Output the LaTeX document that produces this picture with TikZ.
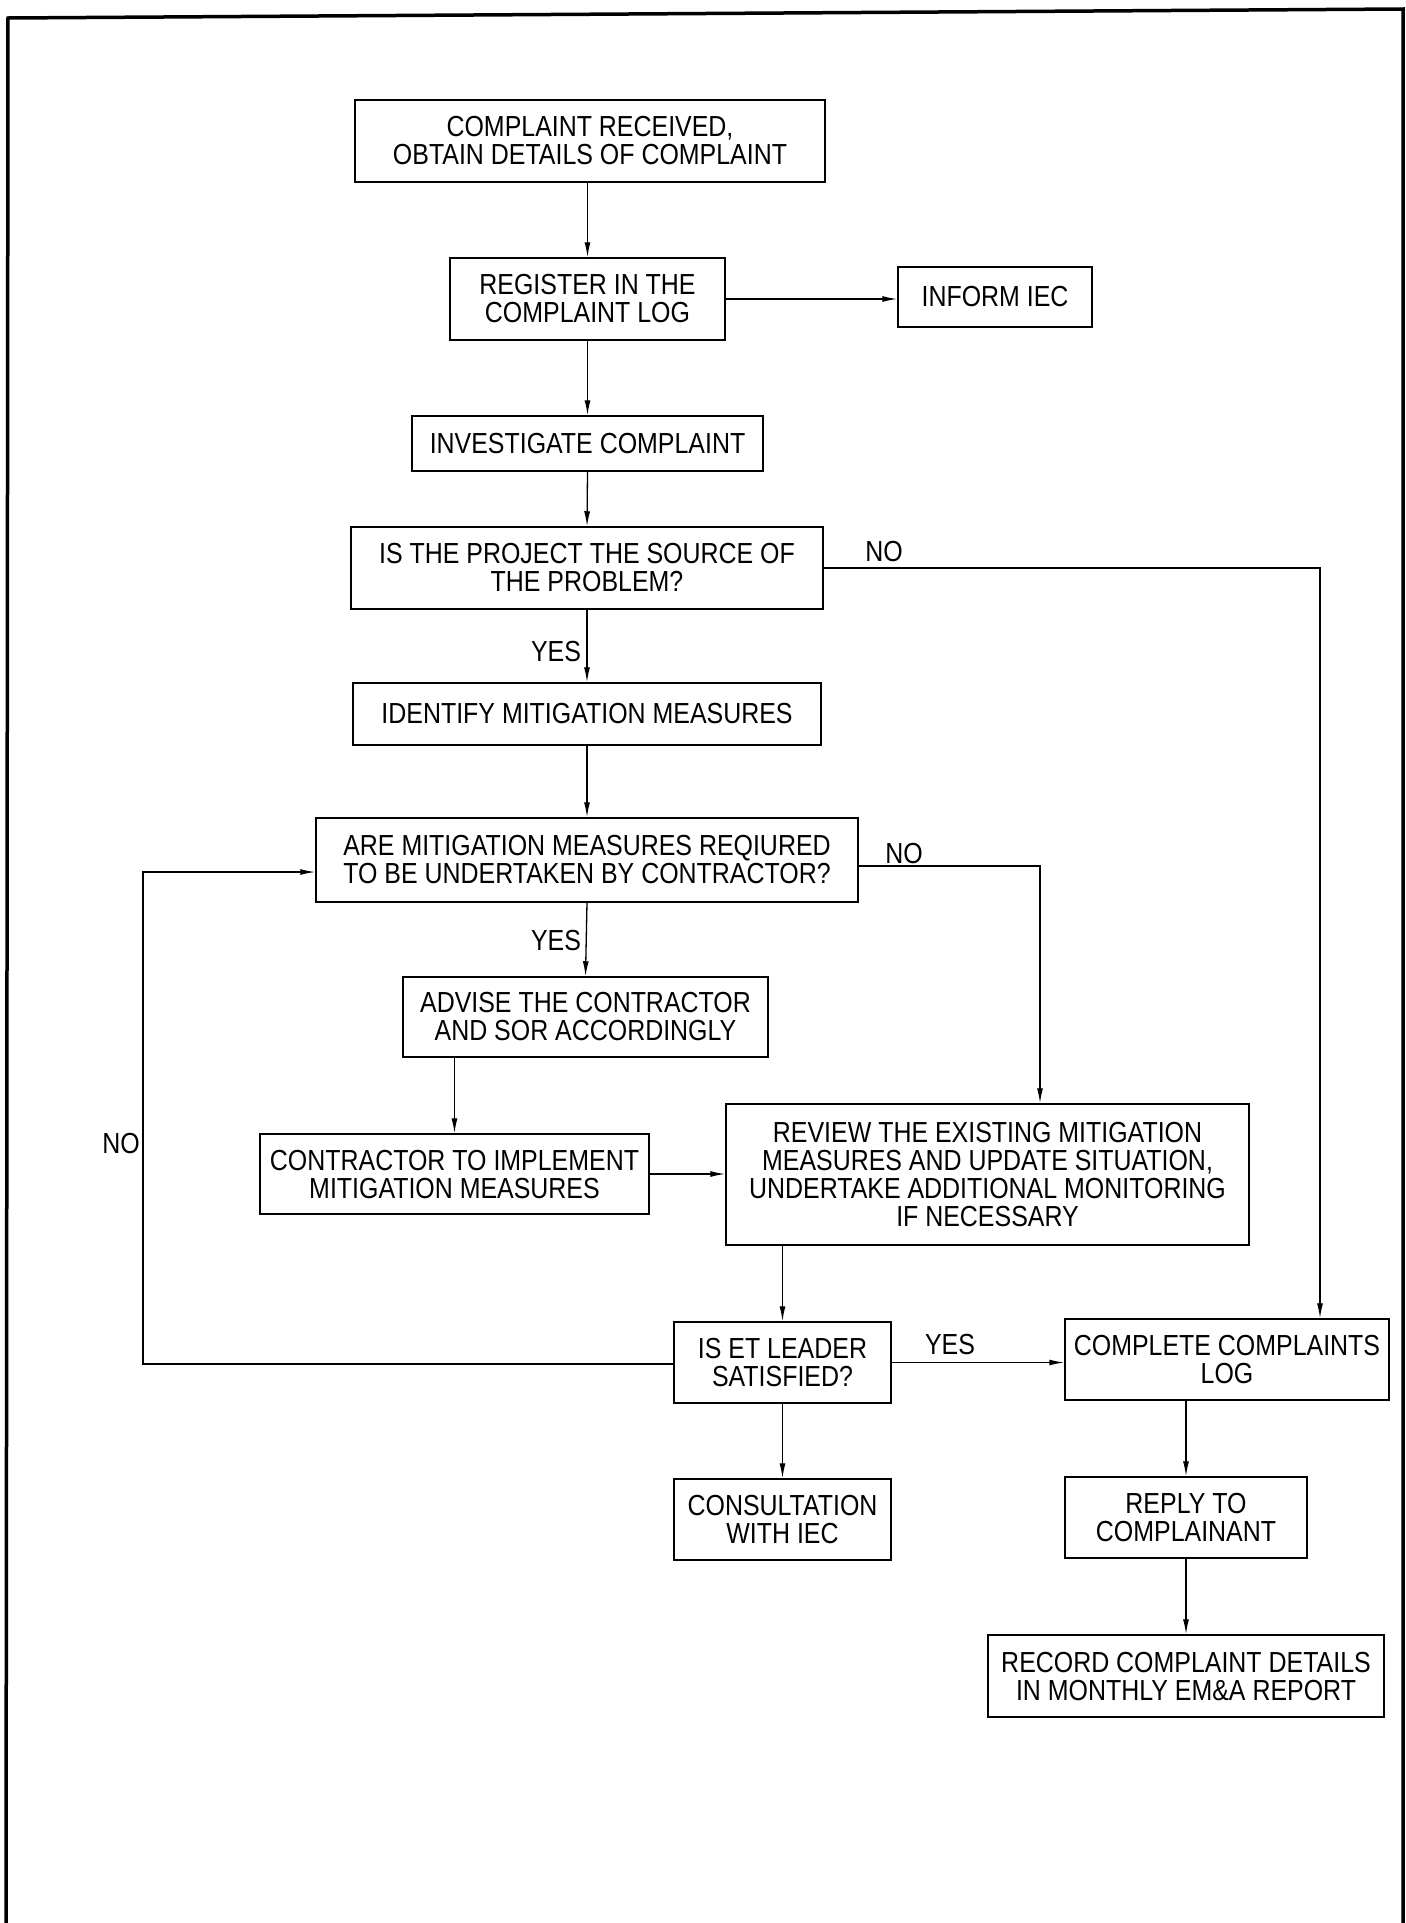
\documentclass[tikz,border=0pt]{standalone}
\usepackage{fontspec}
\setmainfont{Liberation Sans}[FakeStretch=0.86]
\usetikzlibrary{arrows.meta}
\begin{document}
\begin{tikzpicture}[x=1pt,y=-1pt,
  box/.style={draw, line width=1.5pt, align=center, inner sep=0pt,
    font=\fontsize{29}{28}\selectfont},
  lbl/.style={font=\fontsize{29}{28}\selectfont, inner sep=0pt},
  arr/.style={line width=1.3pt, -{Latex[length=15pt,width=6pt]}},
  ln/.style={line width=1.3pt}]
\useasboundingbox (0,0) rectangle (1406,1923);
\fill[white] (0,0) rectangle (1406,1923);
% frame
\draw[line width=3.5pt] (6,1923) -- (8,18) -- (1403,9) -- (1403,1923);
% nodes
\node[box, minimum width=470pt, minimum height=82pt] (b1) at (590,141) {COMPLAINT RECEIVED,\\OBTAIN DETAILS OF COMPLAINT};
\node[box, minimum width=275pt, minimum height=82pt] (b2) at (587.5,299) {REGISTER IN THE\\COMPLAINT LOG};
\node[box, minimum width=194pt, minimum height=60pt] (iec) at (995,297) {INFORM IEC};
\node[box, minimum width=351pt, minimum height=55pt] (inv) at (587.5,443.5) {INVESTIGATE COMPLAINT};
\node[box, minimum width=472pt, minimum height=82pt] (src) at (587,568) {IS THE PROJECT THE SOURCE OF\\THE PROBLEM?};
\node[box, minimum width=468pt, minimum height=62pt] (idm) at (587,714) {IDENTIFY MITIGATION MEASURES};
\node[box, minimum width=542pt, minimum height=84pt] (are) at (587,860) {ARE MITIGATION MEASURES REQIURED\\TO BE UNDERTAKEN BY CONTRACTOR?};
\node[box, minimum width=365pt, minimum height=80pt] (adv) at (585.5,1017) {ADVISE THE CONTRACTOR\\AND SOR ACCORDINGLY};
\node[box, minimum width=389pt, minimum height=80pt] (con) at (454.5,1174) {CONTRACTOR TO IMPLEMENT\\MITIGATION MEASURES};
\node[box, minimum width=523pt, minimum height=141pt] (rev) at (987.5,1174.5) {REVIEW THE EXISTING MITIGATION\\MEASURES AND UPDATE SITUATION,\\UNDERTAKE ADDITIONAL MONITORING\\IF NECESSARY};
\node[box, minimum width=217pt, minimum height=81pt] (et) at (782.5,1362.5) {IS ET LEADER\\SATISFIED?};
\node[box, minimum width=324pt, minimum height=81pt] (cmp) at (1227,1359.5) {COMPLETE COMPLAINTS\\LOG};
\node[box, minimum width=242pt, minimum height=81pt] (rep) at (1186,1517.5) {REPLY TO\\COMPLAINANT};
\node[box, minimum width=217pt, minimum height=81pt] (cons) at (782.5,1519.5) {CONSULTATION\\WITH IEC};
\node[box, minimum width=396pt, minimum height=82pt] (rec) at (1186,1676) {RECORD COMPLAINT DETAILS\\IN MONTHLY EM\&A REPORT};
% helper coordinates
\coordinate (nc) at (1320,568);
\coordinate (an) at (1040,866);
\coordinate (lb) at (143,1364);
\coordinate (lt) at (143,872);
% connectors
\draw[arr] (b1.south -| b2.north) -- (b2.north);
\draw[arr] (b2.east) -- (b2.east -| iec.west);
\draw[arr] (b2.south) -- (inv.north);
\draw[arr] (inv.south) -- (src.north);
\draw[arr] (src.south) -- (idm.north);
\draw[arr] (src.east) -- (nc) -- (nc |- cmp.north);
\draw[arr] (idm.south) -- (are.north);
\draw[arr] (are.south) -- (adv.north);
\draw[arr] (are.east |- an) -- (an) -- (an |- rev.north);
\draw[arr] (adv.south -| con.north) -- (con.north);
\draw[arr] (con.east) -- (con.east -| rev.west);
\draw[arr] (rev.south -| et.north) -- (et.north);
\draw[arr] (et.west |- lb) -- (lb) -- (lt) -- (lt -| are.west);
\draw[arr] (et.east) -- (et.east -| cmp.west);
\draw[arr] (et.south) -- (cons.north);
\draw[arr] (cmp.south -| rep.north) -- (rep.north);
\draw[arr] (rep.south) -- (rec.north);
% labels
\node[lbl] (l1) at (556,652) {YES};
\node[lbl] (l2) at (884,552) {NO};
\node[lbl] (l3) at (556,941) {YES};
\node[lbl] (l4) at (904,854) {NO};
\node[lbl] (l5) at (121,1144) {NO};
\node[lbl] (l6) at (950,1344) {YES};
\end{tikzpicture}
\end{document}
